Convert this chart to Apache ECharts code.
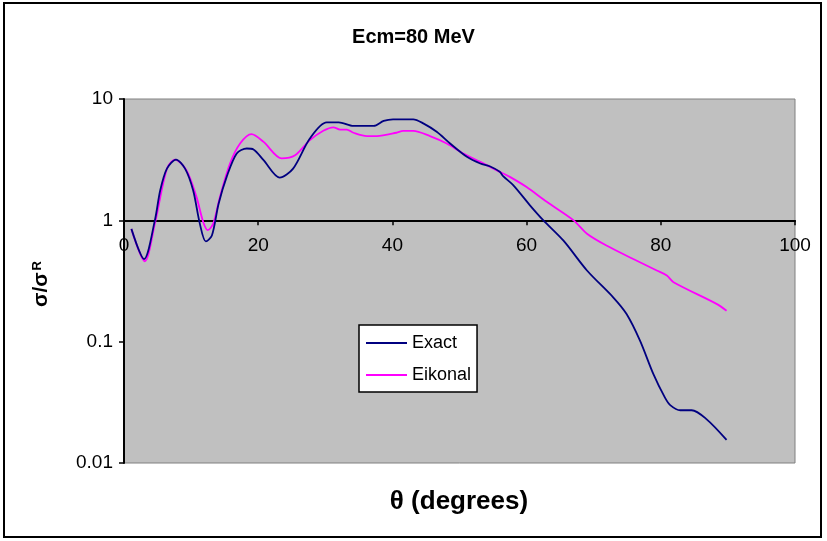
<!DOCTYPE html>
<html>
<head>
<meta charset="utf-8">
<script src="https://cdn.jsdelivr.net/npm/echarts@6/dist/echarts.min.js"></script>
<style>
  html, body { margin: 0; padding: 0; background: #ffffff; }
  #chart { width: 827px; height: 541px; }
</style>
</head>
<body>
<div id="chart"></div>
<script>
// Scattering angle (degrees) and ratio to Rutherford cross section
var exactTheta = [1.1, 3.0, 4.6, 5.4, 6.4, 7.75, 9.1, 10.3, 11.3, 12.2, 13.1, 14.1, 15.3, 16.8, 18.3, 19.3, 20.8, 23.2, 25.2, 27.7, 30.2, 32, 34.2, 37.2, 38.7, 40.1, 43.1, 44.6, 46.6, 48.6, 51.1, 53.1, 54.5, 56.0, 56.5, 58.0, 60.5, 62.5, 65.5, 69, 72.9, 74.9, 76.9, 78.9, 80.6, 81.4, 82.9, 84.6, 86.8, 89.8];
var exactSigma = [0.85, 0.48, 1.0, 1.77, 2.67, 3.17, 2.67, 1.77, 0.94, 0.67, 0.75, 1.37, 2.28, 3.56, 3.91, 3.84, 3.13, 2.25, 2.67, 4.73, 6.42, 6.42, 6.0, 6.0, 6.6, 6.8, 6.8, 6.3, 5.37, 4.3, 3.34, 2.94, 2.79, 2.51, 2.31, 1.95, 1.33, 1.0, 0.68, 0.386, 0.232, 0.169, 0.102, 0.054, 0.0347, 0.030, 0.0272, 0.0272, 0.023, 0.0155];

var eikonalTheta = [1.1, 3.1, 4.6, 6.4, 7.6, 9.3, 10.8, 11.8, 12.5, 13.3, 14.3, 15.8, 17.3, 19.0, 20.8, 23.5, 25.5, 27.7, 29.7, 31.2, 32.2, 33.2, 34.2, 36.2, 37.7, 40.6, 41.6, 43.1, 45.6, 48.1, 50.6, 53.1, 56.0, 57.5, 60.0, 63.0, 67.0, 69.0, 71.9, 75.9, 79.4, 80.9, 81.9, 88.3, 89.8];
var eikonalSigma = [0.85, 0.46, 0.94, 2.67, 3.17, 2.59, 1.56, 0.97, 0.83, 0.94, 1.56, 2.94, 4.3, 5.14, 4.43, 3.24, 3.44, 4.58, 5.47, 5.84, 5.6, 5.6, 5.27, 4.95, 4.95, 5.27, 5.47, 5.47, 4.95, 4.3, 3.55, 3.03, 2.51, 2.28, 1.88, 1.42, 1.0, 0.776, 0.62, 0.48, 0.386, 0.351, 0.309, 0.205, 0.18];

var seriesNames = ['Exact', 'Eikonal'];
var titleText = 'Ecm=80 MeV';
var xTitle = 'θ (degrees)';

function pairs(xs, ys) {
  return xs.map(function (x, i) { return [x, ys[i]]; });
}

var FONT = '"Liberation Sans", Arial, Helvetica, sans-serif';
var W = 827, H = 541;
var grid = { left: 124, top: 99, right: 32, bottom: 78 };
var plotH = H - grid.top - grid.bottom;
// the theta axis sits on the sigma = 1 line (two decades above 0.01 of three)
var xAxisOffset = -plotH * 2 / 3;

var chart = echarts.init(document.getElementById('chart'), null, { renderer: 'canvas' });
chart.setOption({
  animation: false,
  backgroundColor: '#ffffff',
  textStyle: { fontFamily: FONT },
  title: {
    text: titleText,
    left: 'center',
    top: 22,
    textStyle: { fontFamily: FONT, fontSize: 20, fontWeight: 'bold', color: '#000' }
  },
  grid: {
    left: grid.left, top: grid.top, right: grid.right, bottom: grid.bottom,
    show: true, backgroundColor: '#c0c0c0', borderColor: '#808080', borderWidth: 1
  },
  legend: {
    orient: 'vertical',
    left: 359, top: 325,
    data: seriesNames,
    icon: 'rect',
    backgroundColor: '#ffffff',
    borderColor: '#000000',
    borderWidth: 1.5,
    borderRadius: 0,
    padding: [8, 6, 7, 7],
    itemWidth: 41,
    itemHeight: 2,
    itemGap: 12,
    textStyle: { fontFamily: FONT, fontSize: 18, lineHeight: 20, color: '#000' }
  },
  xAxis: {
    type: 'value',
    min: 0, max: 100, interval: 20,
    position: 'bottom',
    offset: xAxisOffset,
    axisLine: { show: true, onZero: false, lineStyle: { color: '#000', width: 2 } },
    axisTick: { show: true, inside: false, length: 5, lineStyle: { color: '#000', width: 1.5 } },
    axisLabel: { margin: 16, fontSize: 19, color: '#000', fontFamily: FONT },
    splitLine: { show: false }
  },
  yAxis: {
    type: 'log',
    logBase: 10,
    min: 0.01, max: 10,
    axisLine: { show: true, lineStyle: { color: '#000', width: 2 } },
    axisTick: { show: true, inside: false, length: 5, lineStyle: { color: '#000', width: 1.5 } },
    axisLabel: {
      margin: 11, fontSize: 19, color: '#000', fontFamily: FONT,
      formatter: function (v) { return String(+v.toPrecision(3)); }
    },
    minorTick: { show: false },
    splitLine: { show: false }
  },
  graphic: [
    {
      type: 'rect',
      shape: { x: 4, y: 3, width: 817, height: 534 },
      style: { fill: null, stroke: '#000', lineWidth: 2 },
      silent: true, z: 100
    },
    {
      type: 'text',
      x: 41, y: 284,
      rotation: Math.PI / 2,
      style: {
        text: '{a|σ/σ}{b|R}',
        align: 'center',
        verticalAlign: 'middle',
        rich: {
          a: { fontFamily: FONT, fontSize: 21, fontWeight: 'bold', fill: '#000' },
          b: { fontFamily: FONT, fontSize: 13, fontWeight: 'bold', fill: '#000', verticalAlign: 'top', padding: [0, 0, 6, 2] }
        }
      }
    },
    {
      type: 'text',
      x: 459, y: 502,
      style: {
        text: xTitle,
        align: 'center',
        verticalAlign: 'middle',
        font: 'bold 26px ' + FONT,
        fill: '#000'
      }
    }
  ],
  series: [
    {
      name: seriesNames[0],
      type: 'line',
      data: pairs(exactTheta, exactSigma),
      smooth: 0.3,
      symbol: 'none',
      lineStyle: { color: '#000080', width: 1.8 },
      itemStyle: { color: '#000080' },
      z: 3
    },
    {
      name: seriesNames[1],
      type: 'line',
      data: pairs(eikonalTheta, eikonalSigma),
      smooth: 0.3,
      symbol: 'none',
      lineStyle: { color: '#ff00ff', width: 1.8 },
      itemStyle: { color: '#ff00ff' },
      z: 2
    }
  ]
});
</script>
</body>
</html>
